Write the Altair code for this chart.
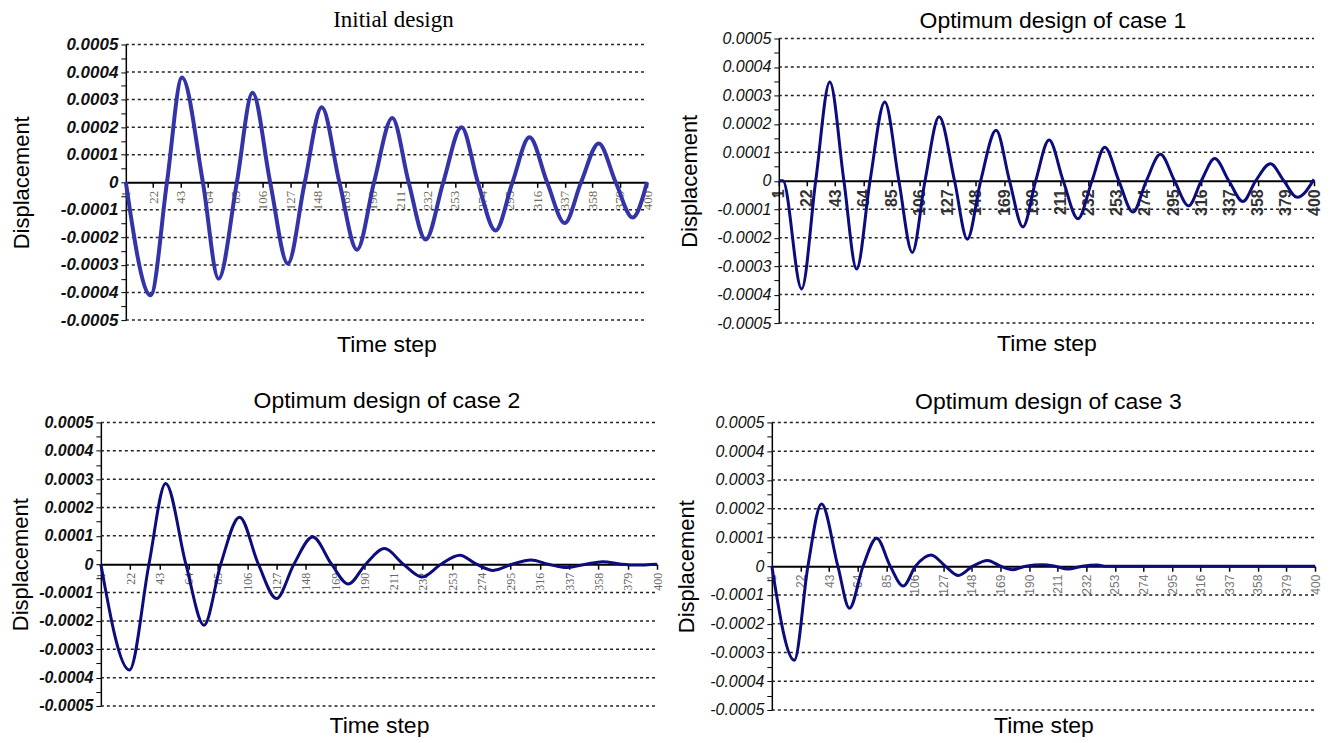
import altair as alt
import pandas as pd

# ---------------- data ----------------
TICK_STEPS = [1, 22, 43, 64, 85, 106, 127, 148, 169, 190, 211, 232, 253, 274, 295, 316, 337, 358, 379, 400]
GRID_VALUES = [-0.0005, -0.0004, -0.0003, -0.0002, -0.0001, 0.0001, 0.0002, 0.0003, 0.0004, 0.0005]
Y_TICKS = [i / 20000 for i in range(-10, 11)]

initial_step = [1, 20, 32.5, 44, 60, 72, 86, 98, 111.5, 125, 138, 151, 164.5, 178, 191, 205, 217.5,
                230.5, 244, 258, 270.5, 284, 297, 310, 323.5, 337, 349.5, 363, 376, 389, 400]
initial_disp = [0, -0.00041, 0, 0.00038, 0, -0.00035, 0, 0.000325, 0, -0.000295, 0, 0.000272, 0,
                -0.000245, 0, 0.000233, 0, -0.000208, 0, 0.0002, 0, -0.000175, 0, 0.000163, 0,
                -0.000148, 0, 0.000141, 0, -0.000128, 0]

case1_step = [1, 4, 18, 28.5, 39, 49.5, 59, 69, 80, 90.5, 100.5, 110, 120.5, 132, 141.5, 151.5, 163,
              173, 183, 192.5, 202.5, 213, 224, 234.5, 244, 254.5, 265, 275, 285.5, 296, 306.5, 316,
              326, 336.5, 347, 356.5, 367.5, 377.5, 387.5, 400]
case1_disp = [0, 0, -0.00038, 0, 0.000347, 0, -0.00031, 0, 0.000277, 0, -0.000252, 0, 0.000225, 0,
              -0.000205, 0, 0.000178, 0, -0.000162, 0, 0.000143, 0, -0.000133, 0, 0.000118, 0,
              -0.00011, 0, 0.000093, 0, -0.000088, 0, 0.000078, 0, -0.000073, 0, 0.00006, 0,
              -0.000058, 0.000005]

case2_step = [1, 21.5, 35.5, 47.5, 62, 75, 87, 100.5, 114, 127, 139.5, 153, 166.5, 178.5, 191, 204.5,
              218, 231.5, 245, 258.5, 270.5, 282.5, 296, 309.5, 322, 335.5, 349, 361, 374.5, 385, 400]
case2_disp = [0, -0.000373, 0, 0.000285, 0, -0.000215, 0, 0.000166, 0, -0.000121, 0, 0.000096, 0,
              -0.00007, 0, 0.000055, 0, -0.000045, 0, 0.000032, 0, -0.000022, 0, 0.000015, 0,
              -0.000012, 0, 0.000009, 0, -0.000003, 0]

case3_step = [1, 17.5, 27.5, 37.5, 49.5, 58, 68, 78, 88, 97.5, 106.5, 118, 128.5, 138, 148.5, 159.5,
              169, 178, 187.5, 200, 209, 218.5, 229, 240, 246.5, 400]
case3_disp = [0, -0.000327, 0, 0.000216, 0, -0.000146, 0, 0.000097, 0, -0.000069, 0, 0.000039, 0,
              -0.000032, 0, 0.00002, 0, -0.000012, 0, 0.000005, 0, -0.00001, 0, 0.000004, 0, 0]

TITLES = ["Initial design", "Optimum design of case 1", "Optimum design of case 2", "Optimum design of case 3"]

LABEL_EXPR = ("abs(round(datum.value * 20000)) % 2 == 1 ? '' : "
              "(datum.value == 0 ? '0' : replace(format(datum.value, '.4f'), '\u2212', '-'))")


def panel(title, steps, disp, w, h, cfg):
    """w, h: plot size; cfg['lx'], cfg['ty']: extra blank room left / top inside the view."""
    lx, ty = cfg.get("lx", 0), cfg.get("ty", 0)
    vw, vh = w + lx, h + ty
    df = pd.DataFrame({"step": steps, "disp": disp})
    xs = alt.Scale(domain=[1, 400], range=[lx, vw], nice=False, zero=False)
    ys = alt.Scale(domain=[-0.0005, 0.0005], range=[vh, ty], nice=False, zero=False)
    yaxis = alt.Axis(
        values=Y_TICKS, title="Displacement", labelExpr=LABEL_EXPR, offset=-lx,
        labelFont="Liberation Sans", labelFontSize=cfg["ysize"], labelFontStyle="italic",
        labelFontWeight=cfg["yweight"], labelColor="#111111", labelPadding=3,
        labelOverlap=False, labelFlush=False,
        domainColor="black", domainWidth=1.5, tickColor="black", tickSize=5, tickWidth=1,
        grid=False, titleFont="Liberation Sans", titleFontSize=22, titleFontWeight="normal",
        titleColor="black", titlePadding=4, minExtent=cfg["ext"], maxExtent=cfg["ext"])

    grid = alt.Chart(pd.DataFrame({"disp": GRID_VALUES})).mark_rule(
        strokeDash=[3, 3], color="#222222", strokeWidth=1.5
    ).encode(
        x=alt.X(datum=1, scale=xs, axis=None),
        x2=alt.X2(datum=400),
        y=alt.Y("disp:Q", scale=ys, axis=yaxis),
    )

    line = alt.Chart(df).mark_line(
        interpolate="monotone", color=cfg["color"], strokeWidth=cfg["lw"]
    ).encode(
        x=alt.X("step:Q", scale=xs, axis=alt.Axis(
            values=TICK_STEPS, title=None, orient="bottom", offset=-h / 2,
            labelAngle=270, labelFont=cfg["xfont"], labelFontSize=cfg["xsize"],
            labelColor=cfg["xcolor"], labelFontWeight=cfg["xweight"],
            domainColor="black", domainWidth=2, tickColor="black", tickSize=5,
            tickWidth=1.5, labelPadding=3, grid=False, labelFlush=False, labelOverlap=False)),
        y=alt.Y("disp:Q", scale=ys, axis=yaxis),
    )

    xtitle = alt.Chart(df).mark_point(opacity=0).encode(
        x=alt.X("step:Q", scale=xs, axis=alt.Axis(
            title="Time step", orient="bottom", domain=False, ticks=False, labels=False,
            grid=False, titleFont="Liberation Sans", titleFontSize=23, titleFontWeight="normal",
            titleColor="black", titlePadding=cfg["xtp"])),
        y=alt.Y("disp:Q", scale=ys, axis=yaxis),
    )

    return alt.layer(grid, line, xtitle).resolve_axis(x="independent").properties(
        width=vw, height=vh,
        title=alt.TitleParams(title, font=cfg["tfont"], fontSize=23, fontWeight="normal",
                              color="black", anchor="middle", frame="group",
                              offset=cfg["toff"], dx=cfg["tdx"] + lx / 2),
    )


p1 = panel(TITLES[0], initial_step, initial_disp, 522, 276, dict(
    lx=25, ty=6,
    color="#3434a8", lw=4, xfont="Liberation Serif", xsize=13, xcolor="#6f6f5a", xweight="normal",
    ysize=17, yweight="bold", ext=88, xtp=13, tfont="Liberation Serif", toff=3.5, tdx=7))
p2 = panel(TITLES[1], case1_step, case1_disp, 536, 285, dict(
    color="#0c0c7c", lw=3, xfont="Liberation Sans", xsize=16, xcolor="#333333", xweight="bold",
    ysize=16, yweight="normal", ext=73, xtp=9, tfont="Liberation Sans", toff=-2.5, tdx=6.5))
p3 = panel(TITLES[2], case2_step, case2_disp, 557, 284, dict(
    color="#0c0c7c", lw=3, xfont="Liberation Serif", xsize=12, xcolor="#666666", xweight="normal",
    ysize=16, yweight="bold", ext=64, xtp=8.5, tfont="Liberation Sans", toff=1.5, tdx=8))
p4 = panel(TITLES[3], case3_step, case3_disp, 544, 288, dict(
    color="#0c0c7c", lw=3, xfont="Liberation Sans", xsize=12, xcolor="#777777", xweight="normal",
    ysize=16, yweight="normal", ext=69, xtp=4.5, tfont="Liberation Sans", toff=0, tdx=5))

row1 = alt.hconcat(p1, p2, spacing=24)
row2 = alt.hconcat(p3, p4, spacing=13)
chart = alt.vconcat(row1, row2, spacing=33.5).properties(
    padding={"top": 0, "bottom": -1.5, "left": 2, "right": 0}, background="white"
).configure_view(stroke=None)

chart.save("out.html", embed_options={"renderer": "svg", "actions": False})
